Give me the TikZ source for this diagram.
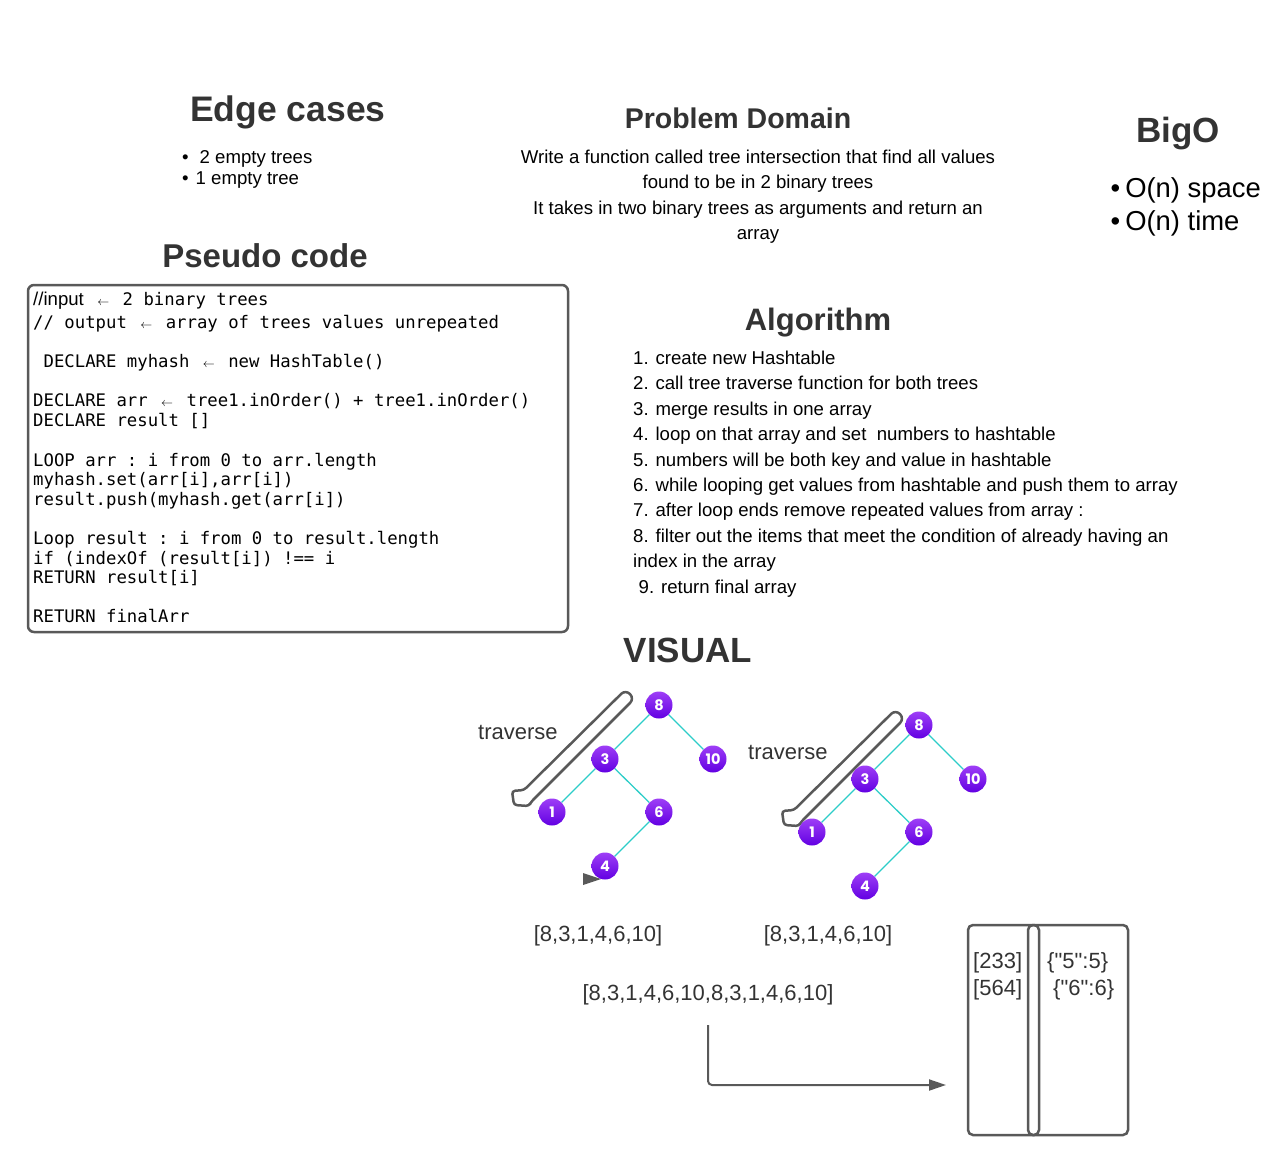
\documentclass[tikz,border=0pt]{standalone}
\usepackage{fontspec}
\setmainfont{Liberation Sans}
\setmonofont{DejaVu Sans Mono}
\newfontfamily\poppins{Poppins}
\newfontfamily\rawsans[Ligatures=TeXOff]{Liberation Sans}
\usetikzlibrary{arrows.meta}
\definecolor{headgray}{HTML}{333333}
\definecolor{linegray}{HTML}{595959}
\definecolor{treecyan}{RGB}{45,205,200}
\definecolor{nodetop}{RGB}{158,62,246}
\definecolor{nodebot}{RGB}{98,0,226}
\tikzset{>=latex,
  heading/.style={font=\fontsize{#1}{#1}\selectfont\bfseries, text=headgray, anchor=base, inner sep=0pt},
  body/.style={font=\fontsize{18.6}{22}\selectfont, anchor=base west, inner sep=0pt},
  code/.style={font=\fontsize{17.3}{20}\selectfont\ttfamily, anchor=base west, inner sep=0pt},
  label/.style={font=\fontsize{22}{26}\selectfont, text=headgray, anchor=base west, inner sep=0pt},
  tnode/.style={circle, minimum size=27pt, inner sep=0pt, top color=nodetop, bottom color=nodebot,
    text=white, font=\poppins\bfseries\fontsize{14.5}{14.5}\selectfont},
  tedge/.style={draw=treecyan, line width=1.3pt},
  boxline/.style={draw=linegray, line width=2.5pt},
}
\newcommand{\asgn}{\makebox[18pt][c]{$\scriptstyle\leftarrow$}}
\begin{document}
\begin{tikzpicture}[x=1pt,y=-1pt]
        \useasboundingbox (0,0) rectangle (1286,1154);
        %%% headings
        \node[heading=35.5] (edge) at (288,121) {Edge cases};
        \node[heading=28.5] (domain) at (738,128) {Problem Domain};
        \node[heading=35] (bigo) at (1178,142) {BigO};
        \node[heading=33] (pseudo) at (265,267) {Pseudo code};
        \node[heading=31] (algo) at (818,330) {Algorithm};
        \node[heading=35] (visual) at (688,662) {VISUAL};
        %%% edge cases
        \node[body] (edge1) at (182,163) {•\hspace{11pt}2 empty trees};
        \node[body] (edge2) at (182,184.5) {•\hspace{7pt}1 empty tree};
        %%% problem domain
        \node[body,anchor=base] (dom1) at (758,163.5) {Write a function called tree intersection that find all values};
        \node[body,anchor=base] (dom2) at (758,188.8) {found to be in 2 binary trees};
        \node[body,anchor=base] (dom3) at (758,214.1) {It takes in two binary trees as arguments and return an};
        \node[body,anchor=base] (dom4) at (758,239.4) {array};
        %%% big o
        \node[body,font=\fontsize{27.4}{30}\selectfont] (big1) at (1110.5,197.7) {•\hspace{5pt}O(n) space};
        \node[body,font=\fontsize{27.4}{30}\selectfont] (big2) at (1110.5,230.7) {•\hspace{5pt}O(n) time};
        %%% pseudo code
        \draw[boxline,rounded corners=6] (28,285) rectangle (568,632);
        \node[code] (pc1) at (33,305) {{\rmfamily\fontsize{18.6}{20}\selectfont //input} \asgn{} 2 binary trees};
        \node[code] (pc2) at (33,328) {// output \asgn{} array of trees values unrepeated};
        \node[code] (pc3) at (33,367) {\phantom{D}DECLARE myhash \asgn{} new HashTable()};
        \node[code] (pc4) at (33,406.5) {DECLARE arr \asgn{} tree1.inOrder() + tree1.inOrder()};
        \node[code] (pc5) at (33,426.5) {DECLARE result []};
        \node[code] (pc6) at (33,466) {LOOP arr : i from 0 to arr.length};
        \node[code] (pc7) at (33,485.5) {myhash.set(arr[i],arr[i])};
        \node[code] (pc8) at (33,505) {result.push(myhash.get(arr[i])};
        \node[code] (pc9) at (33,544.5) {Loop result : i from 0 to result.length};
        \node[code] (pc10) at (33,564) {if (indexOf (result[i]) !== i};
        \node[code] (pc11) at (33,583.5) {RETURN result[i]};
        \node[code] (pc12) at (33,622.5) {RETURN finalArr};
        %%% algorithm
        \node[body] (al1) at (633,364.5) {1. create new Hashtable};
        \node[body] (al2) at (633,389.9) {2. call tree traverse function for both trees};
        \node[body] (al3) at (633,415.3) {3. merge results in one array};
        \node[body] (al4) at (633,440.7) {4. loop on that array and set\ \ numbers to hashtable};
        \node[body] (al5) at (633,466.1) {5. numbers will be both key and value in hashtable};
        \node[body] (al6) at (633,491.5) {6. while looping get values from hashtable and push them to array};
        \node[body] (al7) at (633,516.9) {7. after loop ends remove repeated values from array :};
        \node[body] (al8) at (633,542.3) {8. filter out the items that meet the condition of already having an};
        \node[body] (al8b) at (633,567.7) {index in the array};
        \node[body] (al9) at (638.5,593.1) {9. return final array};
        %%% traverse arrows
        \draw[draw=linegray,line width=2.5pt,rounded corners=3] (524,790) -- (512,791) -- (514,805) -- (529,806) -- (531,802)
            [rounded corners=6] -- (634.4,698.6) -- (625.5,689.6) [rounded corners=3] -- cycle;
        \begin{scope}[shift={(270,20)}]
        \draw[draw=linegray,line width=2.5pt,rounded corners=3] (524,790) -- (512,791) -- (514,805) -- (529,806) -- (531,802)
            [rounded corners=6] -- (634.4,698.6) -- (625.5,689.6) [rounded corners=3] -- cycle;
        \end{scope}
        \node[label] (trav1) at (478,739.5) {traverse};
        \node[label] (trav2) at (748,759.5) {traverse};
        %%% tree one
        \fill[linegray] (583,873) -- (601,879) -- (583,885) -- cycle;
        \node[tnode] (a8) at (659,705) {8};
        \node[tnode] (a3) at (605,759) {3};
        \node[tnode] (a10) at (713,759) {10};
        \node[tnode] (a1) at (552,812) {1};
        \node[tnode] (a6) at (659,812) {6};
        \node[tnode] (a4) at (605,866) {4};
        \draw[tedge] (a8) -- (a3);
        \draw[tedge] (a8) -- (a10);
        \draw[tedge] (a3) -- (a1);
        \draw[tedge] (a3) -- (a6);
        \draw[tedge] (a6) -- (a4);
        %%% tree two
        \node[tnode] (b8) at (919,725) {8};
        \node[tnode] (b3) at (865,779) {3};
        \node[tnode] (b10) at (973,779) {10};
        \node[tnode] (b1) at (812,832) {1};
        \node[tnode] (b6) at (919,832) {6};
        \node[tnode] (b4) at (865,886) {4};
        \draw[tedge] (b8) -- (b3);
        \draw[tedge] (b8) -- (b10);
        \draw[tedge] (b3) -- (b1);
        \draw[tedge] (b3) -- (b6);
        \draw[tedge] (b6) -- (b4);
        %%% arrays
        \node[label,anchor=base] (arrA) at (598,941) {[8,3,1,4,6,10]};
        \node[label,anchor=base] (arrB) at (828,941) {[8,3,1,4,6,10]};
        \node[label,anchor=base] (arrAll) at (708,1000) {[8,3,1,4,6,10,8,3,1,4,6,10]};
        %%% hashtable
        \draw[boxline,rounded corners=5] (968,925) rectangle (1128,1135);
        \draw[boxline,rounded corners=5] (1028,925) rectangle (1039,1135);
        \node[label] (key1) at (973,968) {[233]};
        \node[label] (key2) at (973,995) {[564]};
        \node[label,font=\rawsans\fontsize{22}{26}\selectfont] (val1) at (1047,968) {\{"5":5\}};
        \node[label,font=\rawsans\fontsize{22}{26}\selectfont] (val2) at (1053,995) {\{"6":6\}};
        \coordinate (mergeout) at (708,1025);
        \coordinate (hashin) at (946,1085);
        \draw[draw=linegray,line width=2pt,rounded corners=4,-{Triangle[length=17pt,width=11pt]}] (mergeout) |- (hashin);
        %%%
    \end{tikzpicture}
\end{document}
